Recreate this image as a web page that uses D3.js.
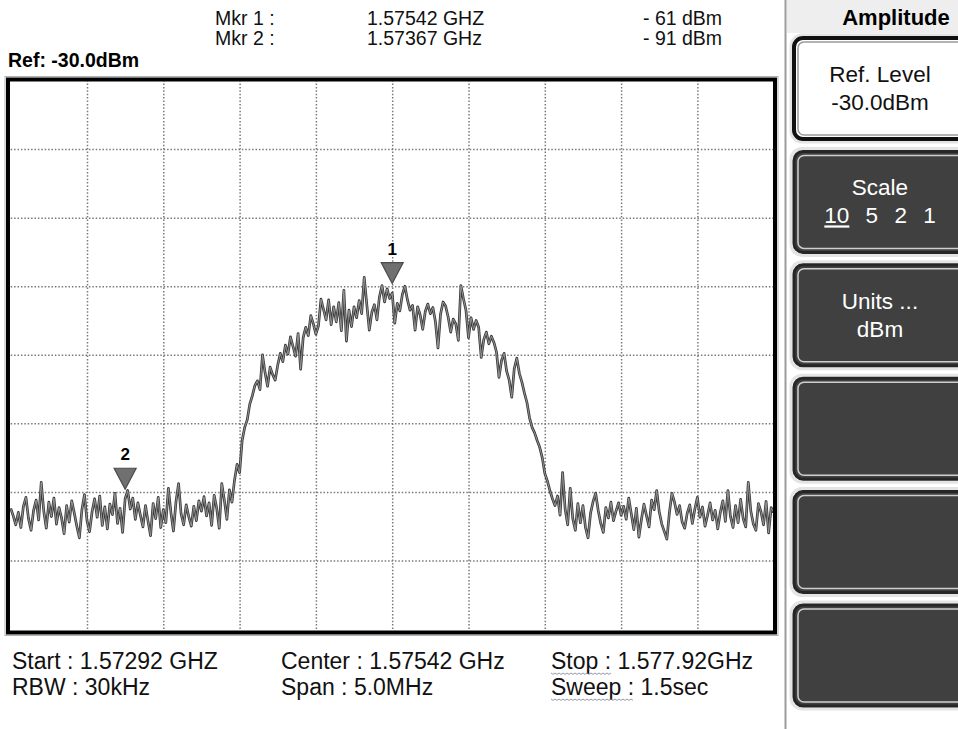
<!DOCTYPE html>
<html>
<head>
<meta charset="utf-8">
<script src="https://cdn.jsdelivr.net/npm/d3@7/dist/d3.min.js"></script>
<style>
  html, body { margin: 0; padding: 0; background: #fff; }
  svg { display: block; font-family: "Liberation Sans", Arial, sans-serif; }
  .grid line { stroke: #7a7a7a; stroke-width: 1.5; stroke-dasharray: 1.5,1.9; }
  .grid .domain { display: none; }
</style>
</head>
<body>
<div id="graph-area"></div>
<script>
// sweep settings
var refLevel = -30;      // dBm, top of the screen
var dbPerDiv = 10;
var divsY = 8;
var divsX = 10;
var startFreq = 1.57292; // GHz
var stopFreq = 1.57792;  // GHz

// trace, 301 sweep points in dBm
var traceDbm = [
  -92.4,-93.5,-94.8,-93.0,-95.2,-92.1,-90.8,-93.9,-95.6,-92.7,
  -91.2,-94.1,-88.6,-92.8,-95.3,-91.5,-93.6,-90.9,-94.7,-92.3,
  -93.8,-96.1,-92.0,-94.4,-91.3,-93.1,-95.0,-96.7,-92.6,-90.4,
  -94.2,-95.8,-92.9,-91.0,-93.7,-90.6,-94.9,-92.2,-95.4,-91.8,
  -93.3,-90.2,-94.6,-92.4,-95.9,-91.0,-89.8,-92.5,-90.9,-94.0,
  -91.6,-93.4,-95.1,-92.0,-94.3,-96.4,-91.7,-93.9,-90.8,-95.2,
  -92.6,-94.5,-89.5,-93.0,-95.7,-91.4,-88.8,-93.2,-94.8,-91.9,
  -93.6,-95.0,-92.1,-94.2,-91.3,-92.8,-90.7,-93.5,-91.6,-94.9,
  -90.5,-92.4,-95.3,-88.8,-91.2,-94.0,-89.7,-91.5,-88.3,-86.0,
  -87.2,-82.5,-80.6,-79.5,-77.2,-76.0,-74.5,-73.8,-75.1,-70.0,
  -72.6,-74.6,-71.8,-72.9,-73.7,-71.5,-69.8,-71.0,-68.6,-69.9,
  -67.4,-68.8,-70.2,-66.9,-72.1,-67.5,-66.0,-67.2,-64.3,-65.5,
  -67.0,-65.8,-61.9,-63.4,-64.9,-62.0,-65.6,-63.0,-65.2,-62.4,
  -66.5,-60.6,-68.0,-63.5,-65.9,-63.0,-64.6,-62.1,-64.0,-58.7,
  -62.6,-66.4,-63.8,-62.7,-64.9,-61.5,-59.9,-62.3,-60.4,-61.8,
  -61.0,-65.4,-62.5,-63.6,-61.2,-60.0,-62.0,-63.5,-62.8,-66.4,
  -63.0,-64.2,-66.3,-63.7,-62.6,-64.0,-63.1,-65.2,-69.0,-64.1,
  -62.3,-62.9,-64.5,-66.7,-64.8,-65.5,-67.9,-59.9,-61.8,-63.5,
  -67.5,-64.6,-66.3,-65.0,-66.0,-70.4,-67.8,-66.7,-68.4,-67.3,
  -68.2,-69.6,-73.3,-70.8,-69.8,-72.4,-73.7,-76.2,-72.0,-70.5,
  -72.7,-74.0,-75.6,-77.0,-79.2,-80.6,-81.4,-82.5,-83.5,-85.0,
  -87.3,-88.4,-89.8,-91.0,-92.0,-90.6,-93.4,-87.2,-92.5,-94.8,
  -89.5,-93.9,-95.6,-91.7,-94.5,-92.0,-95.2,-96.7,-93.1,-91.4,
  -90.2,-92.7,-94.6,-95.9,-92.3,-93.8,-91.5,-94.2,-92.8,-91.6,
  -93.4,-92.1,-94.0,-90.9,-93.2,-95.5,-92.4,-96.6,-94.0,-91.8,
  -93.5,-95.1,-91.2,-92.6,-89.8,-92.9,-94.7,-95.8,-96.9,-93.0,
  -90.2,-91.5,-93.3,-92.0,-94.4,-95.3,-93.1,-91.9,-94.6,-92.5,
  -90.8,-93.7,-92.2,-95.0,-93.4,-91.6,-94.1,-92.7,-95.4,-93.0,
  -91.3,-94.3,-89.8,-93.6,-95.2,-92.0,-94.5,-91.1,-93.9,-95.1,
  -88.6,-92.8,-94.7,-95.6,-91.7,-92.9,-94.8,-91.4,-96.0,-92.3,
  -93.0
];

// markers
var markerNames = ["1", "2"];
var markerFreqs = [1.57542, 1.57367];
var markerDbm = [-61, -91];

// readout texts
var mkrLabels = ["Mkr 1 :", "Mkr 2 :"];
var mkrFreqText = ["1.57542 GHZ", "1.57367 GHz"];
var mkrLevelText = ["- 61 dBm", "- 91 dBm"];
var refText = "Ref: -30.0dBm";
var infoCol1 = ["Start : 1.57292 GHZ", "RBW : 30kHz"];
var infoCol2 = ["Center : 1.57542 GHz", "Span : 5.0MHz"];
var infoCol3 = [["Stop :", " 1.577.92GHz"], ["Sweep :", " 1.5sec"]];

// soft key menu
var menuTitle = "Amplitude";
var softKeys = [
  ["Ref. Level", "-30.0dBm"],
  ["Scale", "10 5 2 1"],
  ["Units ...", "dBm"],
  [], [], []
];

var width = 958, height = 729;
var plot = { left: 10.7, right: 773.7, top: 80.5, bottom: 629 };

var svg = d3.select('#graph-area')
  .append('svg')
  .attr('width', width)
  .attr('height', height);

var x = d3.scaleLinear()
  .domain([startFreq, stopFreq])
  .range([plot.left, plot.right]);
var y = d3.scaleLinear()
  .domain([refLevel, refLevel - dbPerDiv * divsY])
  .range([plot.top, plot.bottom]);

// dotted graticule
var freqStep = (stopFreq - startFreq) / divsX;
var gridFreqs = d3.range(1, divsX).map(function(k){ return startFreq + k * freqStep; });
var gridLevels = d3.range(1, divsY).map(function(k){ return refLevel - k * dbPerDiv; });

svg.append('g')
  .attr('class', 'grid')
  .attr('transform', 'translate(0,' + plot.bottom + ')')
  .call(d3.axisBottom(x).tickValues(gridFreqs).tickSize(-(plot.bottom - plot.top)).tickFormat(''));
svg.append('g')
  .attr('class', 'grid')
  .attr('transform', 'translate(' + plot.left + ',0)')
  .call(d3.axisLeft(y).tickValues(gridLevels).tickSize(-(plot.right - plot.left)).tickFormat(''));

// trace: dark outline with a grey core
var freqOf = function(i){ return startFreq + i * (stopFreq - startFreq) / (traceDbm.length - 1); };
var line = d3.line()
  .x(function(d, i){ return x(freqOf(i)); })
  .y(function(d){ return y(d); });

svg.append('path')
  .datum(traceDbm)
  .attr('d', line)
  .attr('fill', 'none')
  .attr('stroke', '#3a3a3a')
  .attr('stroke-width', 2.7)
  .attr('stroke-linejoin', 'round');
svg.append('path')
  .datum(traceDbm)
  .attr('d', line)
  .attr('fill', 'none')
  .attr('stroke', '#9c9c9c')
  .attr('stroke-width', 0.9)
  .attr('stroke-linejoin', 'round');

// frame
svg.append('rect')
  .attr('x', 5).attr('y', 76.5)
  .attr('width', 773).attr('height', 559)
  .attr('fill', 'none')
  .attr('stroke', '#b0b0b0')
  .attr('stroke-width', 1);
svg.append('rect')
  .attr('x', 8).attr('y', 79.5)
  .attr('width', 767).attr('height', 553)
  .attr('fill', 'none')
  .attr('stroke', '#000')
  .attr('stroke-width', 4);

// markers
var markers = svg.selectAll('.marker')
  .data(markerNames)
  .enter().append('g')
  .attr('class', 'marker')
  .attr('transform', function(d, i){
    return 'translate(' + x(markerFreqs[i]) + ',' + (y(markerDbm[i]) - 9.5) + ')';
  });
markers.append('path')
  .attr('d', 'M-11,-21L11,-21L0,0Z')
  .attr('fill', '#707070')
  .attr('stroke', '#4a4a4a')
  .attr('stroke-width', 1.2);
markers.append('text')
  .attr('y', -29)
  .attr('text-anchor', 'middle')
  .style('font-size', '17px')
  .style('font-weight', 'bold')
  .text(function(d){ return d; });

// header readouts
var rowY = [24.5, 45];
var header = svg.append('g').style('font-size', '19.5px').attr('fill', '#111');
header.selectAll('.mkr-l').data(mkrLabels).enter().append('text')
  .attr('x', 215).attr('y', function(d, i){ return rowY[i]; })
  .text(function(d){ return d; });
header.selectAll('.mkr-f').data(mkrFreqText).enter().append('text')
  .attr('x', 367).attr('y', function(d, i){ return rowY[i]; }).text(function(d){ return d; });
header.selectAll('.mkr-v').data(mkrLevelText).enter().append('text')
  .attr('x', 643).attr('y', function(d, i){ return rowY[i]; }).text(function(d){ return d; });

svg.append('text')
  .attr('x', 8).attr('y', 67)
  .style('font-size', '19.5px')
  .style('font-weight', 'bold')
  .text(refText);

// bottom info lines
var info = svg.append('g').style('font-size', '23px').attr('fill', '#111');
[infoCol1, infoCol2].forEach(function(col, c){
  info.selectAll('.col' + c).data(col).enter().append('text')
    .attr('x', c === 0 ? 12 : 281)
    .attr('y', function(d, i){ return 669 + i * 26; })
    .text(function(d){ return d; });
});
infoCol3.forEach(function(parts, i){
  var t = info.append('text').attr('x', 551).attr('y', 669 + i * 26);
  t.append('tspan').text(parts[0]);
  t.append('tspan').text(parts[1]);
  // spell check squiggle under the first word
  var w = t.node().getSubStringLength(0, parts[0].length);
  var pts = d3.range(0, Math.floor(w / 2) + 1).map(function(k){
    return [551 + k * 2, 669 + i * 26 + 4 + (k % 2 ? 1.4 : 0)];
  });
  info.append('path')
    .attr('d', d3.line()(pts))
    .attr('fill', 'none')
    .attr('stroke', '#7b7f95')
    .attr('stroke-width', 0.8);
});

// right soft key panel
var panelX = 787;
svg.append('line')
  .attr('x1', 785.5).attr('x2', 785.5)
  .attr('y1', 0).attr('y2', height)
  .attr('stroke', '#9c9c9c')
  .attr('stroke-width', 2);
svg.append('rect')
  .attr('x', panelX).attr('y', 0)
  .attr('width', width - panelX).attr('height', 33)
  .attr('fill', '#eeeeee');
svg.append('text')
  .attr('x', 896).attr('y', 25)
  .attr('text-anchor', 'middle')
  .style('font-size', '22px')
  .style('font-weight', 'bold')
  .text(menuTitle);

var keys = svg.selectAll('.softkey')
  .data(softKeys)
  .enter().append('g')
  .attr('class', 'softkey')
  .attr('transform', function(d, i){ return 'translate(794,' + (38 + i * 113.4) + ')'; });

keys.append('rect')
  .attr('x', -3).attr('y', -3)
  .attr('width', 190).attr('height', 107)
  .attr('rx', 11)
  .attr('fill', 'none')
  .attr('stroke', '#e4e4e4')
  .attr('stroke-width', 3);
keys.append('rect')
  .attr('width', 184).attr('height', 101)
  .attr('rx', 9)
  .attr('fill', function(d, i){ return i === 0 ? '#ffffff' : '#404040'; })
  .attr('stroke', function(d, i){ return i === 0 ? '#111' : '#262626'; })
  .attr('stroke-width', function(d, i){ return i === 0 ? 4 : 3; });
keys.append('rect')
  .attr('x', 4).attr('y', 4)
  .attr('width', 176).attr('height', 93)
  .attr('rx', 6)
  .attr('fill', 'none')
  .attr('stroke', function(d, i){ return i === 0 ? '#9a9a9a' : '#cfcfcf'; })
  .attr('stroke-width', 1.5);

keys.each(function(d, i){
  var g = d3.select(this);
  d.forEach(function(label, j){
    var t = g.append('text')
      .attr('x', 86)
      .attr('y', 44 + j * 28)
      .attr('text-anchor', 'middle')
      .attr('fill', i === 0 ? '#111' : '#fff')
      .style('font-size', '22.5px');
    if(label === "10 5 2 1"){
      label.split(' ').forEach(function(part, k){
        var s = t.append('tspan').text((k ? ' ' : '') + part);
        if(k){
          s.attr('dx', 10);
        }else{
          s.style('text-decoration', 'underline');
        }
      });
    }else{
      t.text(label);
    }
  });
});
</script>
</body>
</html>
